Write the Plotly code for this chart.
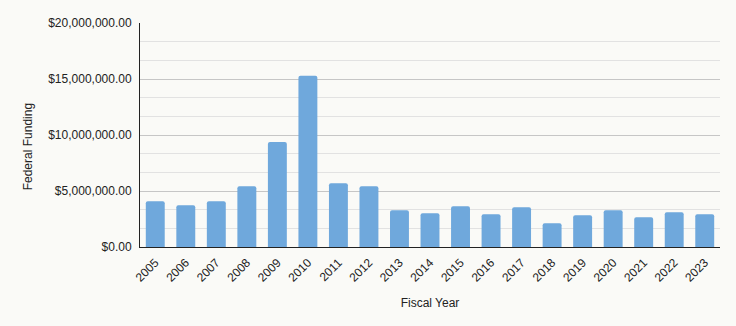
import plotly.graph_objects as go

years = [str(y) for y in range(2005, 2024)]
funding = [4.09e6, 3.73e6, 4.09e6, 5.43e6, 9.37e6, 15.28e6, 5.70e6, 5.43e6, 3.29e6, 3.02e6,
           3.64e6, 2.93e6, 3.55e6, 2.12e6, 2.84e6, 3.29e6, 2.66e6, 3.11e6, 2.93e6]
y_ticks = [0, 5e6, 10e6, 15e6, 20e6]
y_tick_labels = ["$0.00", "$5,000,000.00", "$10,000,000.00", "$15,000,000.00", "$20,000,000.00"]

fig = go.Figure(go.Bar(
    x=years, y=funding,
    marker=dict(color="#6fa8dc", cornerradius=2, line=dict(width=0)),
))

font = "Liberation Sans, Arial, sans-serif"
fig.update_layout(
    width=736, height=326,
    margin=dict(l=140, r=16, t=23, b=79),
    paper_bgcolor="#fafaf7", plot_bgcolor="#fafaf7",
    bargap=0.38,
    showlegend=False,
    font=dict(family=font, size=12, color="#222222"),
)
fig.update_xaxes(
    type="category", tickangle=-45, showline=True, linecolor="#222222", linewidth=1,
    ticks="", showgrid=False, ticklabelstandoff=3,
    title=dict(text="Fiscal Year", standoff=14, font=dict(size=12)),
)
fig.update_yaxes(
    range=[0, 20e6], tickvals=y_ticks, ticktext=y_tick_labels,
    showline=True, linecolor="#222222", linewidth=1, ticks="", ticklabelstandoff=5,
    showgrid=True, gridcolor="#c6c6c6", gridwidth=1, zeroline=False,
    minor=dict(dtick=5e6 / 3, showgrid=True, gridcolor="#e2e2e2", gridwidth=1, ticks=""),
)

# Y-axis title placed as a rotated annotation, sitting slightly below the plot's mid-height
fig.add_annotation(
    text="Federal Funding", textangle=-90, showarrow=False,
    xref="paper", yref="paper", x=(28 - 140) / 580, y=0.445,
    xanchor="center", yanchor="middle", font=dict(size=12),
)

fig.write_html("out.html")
